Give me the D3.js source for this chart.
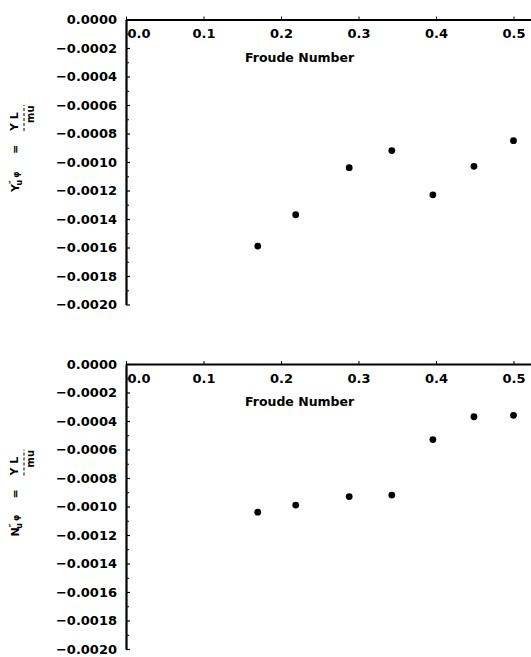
<!DOCTYPE html>
<html>
<head>
<meta charset="utf-8">
<script src="https://cdn.jsdelivr.net/npm/d3@7"></script>
<style>
  body { margin: 0; background: #fff; }
  svg { display: block; font-family: 'DejaVu Sans', sans-serif; font-weight: bold; }
</style>
</head>
<body>
<script>
// Froude number of each run and the two measured derivatives
const froude = [0.170, 0.219, 0.288, 0.343, 0.396, 0.449, 0.500];
const yUphi = [-0.00159, -0.00137, -0.00104, -0.00092, -0.00123, -0.00103, -0.00085];
const nUphi = [-0.00104, -0.00099, -0.00093, -0.00092, -0.00053, -0.00037, -0.00036];
const xTicks = [0, 0.1, 0.2, 0.3, 0.4, 0.5];
const yTicks = [0, -0.0002, -0.0004, -0.0006, -0.0008, -0.0010, -0.0012, -0.0014, -0.0016, -0.0018, -0.0020];
const yMinor = [-0.0001, -0.0003, -0.0005, -0.0007, -0.0009, -0.0011, -0.0013, -0.0015, -0.0017, -0.0019];
const xTitle = 'Froude Number';

const box = {
  width: 531,
  height: 657,
  left: 126,
  right: 531,
  plotHeight: 285,
  tops: [19.5, 364]
};

const font = "'DejaVu Sans', sans-serif";

const svg = d3.select('body')
  .append('svg')
  .attr('width', box.width)
  .attr('height', box.height);

const x = d3.scaleLinear().domain([0, 0.5226]).range([box.left, box.right]);

const panels = [
  { top: box.tops[0], values: yUphi, sym: 'Y' },
  { top: box.tops[1], values: nUphi, sym: 'N' }
];

panels.forEach(p => {
  const y = d3.scaleLinear().domain([0, -0.002]).range([p.top, p.top + box.plotHeight]);
  const g = svg.append('g');

  // x axis along the top, labels hanging below
  const xAxis = d3.axisTop(x)
    .tickValues(xTicks)
    .tickFormat(d3.format('.1f'))
    .tickSizeInner(3)
    .tickSizeOuter(0);

  const gx = g.append('g')
    .attr('transform', `translate(0, ${p.top})`)
    .call(xAxis)
    .attr('font-family', font)
    .attr('font-size', 13)
    .attr('font-weight', 'bold');
  gx.select('.domain').attr('stroke-width', 2.2);
  gx.selectAll('.tick line').attr('stroke-width', 1);
  gx.selectAll('text').attr('y', 18.5);
  gx.selectAll('.tick').filter(d => d === 0).select('text')
    .attr('text-anchor', 'start')
    .attr('x', 1);

  g.append('text')
    .attr('x', 245)
    .attr('y', p.top + 42)
    .attr('font-size', 12.5)
    .text(xTitle);

  // y axis with major and minor ticks pointing into the plot
  const yAxis = d3.axisLeft(y)
    .tickValues(yTicks)
    .tickFormat(d3.format('.4f'))
    .tickSizeInner(-4)
    .tickSizeOuter(0)
    .tickPadding(9);

  const gy = g.append('g')
    .attr('transform', `translate(${box.left}, 0)`)
    .call(yAxis)
    .attr('font-family', font)
    .attr('font-size', 13)
    .attr('font-weight', 'bold');
  gy.select('.domain').attr('stroke-width', 2.2);
  gy.selectAll('.tick line').attr('stroke-width', 1.2);

  g.append('g')
    .attr('transform', `translate(${box.left}, 0)`)
    .call(d3.axisLeft(y).tickValues(yMinor).tickFormat('').tickSizeInner(-3).tickSizeOuter(0))
    .call(s => s.select('.domain').remove());

  // points
  g.selectAll('circle')
    .data(froude)
    .join('circle')
    .attr('cx', d => x(d))
    .attr('cy', (d, i) => y(p.values[i]))
    .attr('r', 3.4)
    .attr('fill', '#000');

  // y axis title, rotated: S''u phi = Y L / mu
  const lab = g.append('g')
    .attr('transform', `translate(19, ${p.top + 142.5}) rotate(-90)`)
    .attr('font-size', 11);

  const t = lab.append('text').attr('x', -30).attr('y', 0);
  t.append('tspan').text(p.sym);
  t.append('tspan').attr('dy', -3).attr('font-size', 8).text('\u2033');
  t.append('tspan').attr('dx', -5).attr('dy', 6).attr('font-size', 8).text('u');
  t.append('tspan').attr('dx', 2).attr('dy', -3).attr('font-size', 8).text('\u03c6');

  lab.append('text').attr('x', 8).attr('y', 0).text('=');
  lab.append('text').attr('x', 31).attr('y', -1).text('Y L');
  lab.append('line')
    .attr('x1', 31).attr('x2', 57)
    .attr('y1', 5).attr('y2', 5)
    .attr('stroke', '#000')
    .attr('stroke-width', 1)
    .attr('stroke-dasharray', '3,2');
  lab.append('text').attr('x', 39).attr('y', 15).attr('font-size', 10).text('mu');
});
</script>
</body>
</html>
